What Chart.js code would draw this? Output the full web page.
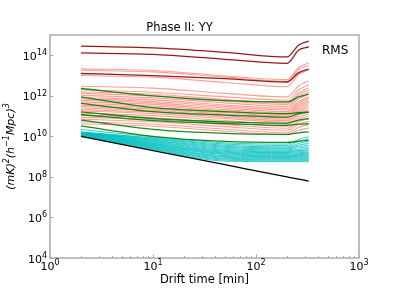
<!DOCTYPE html>
<html>
<head>
    <title>Phase II: YY</title>
    <script src="https://cdnjs.cloudflare.com/ajax/libs/Chart.js/4.4.0/chart.umd.min.js"></script>
    <style>
        body {
            margin: 0;
            background: white;
        }
        canvas {
            display: block;
        }
    </style>
</head>
<body>
    <canvas id="rmsChart" width="399" height="290"></canvas>

    <script>
        // Drift time samples [min]
        const driftTimes = [2, 10, 50, 200, 260, 325];

        // Tick positions and exponents (labels are 10^n)
        const xTickValues = [1, 10, 100, 1000];
        const xTickExponents = ['0', '1', '2', '3'];
        const yTickValues = [1e4, 1e6, 1e8, 1e10, 1e12, 1e14];
        const yTickExponents = ['4', '6', '8', '10', '12', '14'];

        // RMS curves, (mK)^2 (h^-1 Mpc)^3, one row per curve
        const rmsDarkRed = [
            [2.8e14, 2.3e14, 1.4e14, 8.3e13, 3.2e14, 5.0e14],
            [1.3e14, 1.1e14, 6.3e13, 4.0e13, 1.8e14, 2.6e14],
            [1.26e13, 1.0e13, 7.1e12, 4.8e12, 1.4e13, 2.1e13]
        ];

        const rmsGreen = [
            [2.3e12, 1.0e12, 5.8e11, 5.0e11, 8.9e11, 1.2e12],
            [8.9e11, 2.6e11, 1.66e11, 1.32e11, 1.5e11, 1.58e11],
            [4.2e11, 1.66e11, 1.12e11, 8.9e10, 1.32e11, 1.58e11],
            [1.6e11, 7.6e10, 5.2e10, 4.5e10, 6.3e10, 7.6e10],
            [1.2e11, 6.0e10, 4.3e10, 3.5e10, 4.0e10, 4.2e10],
            [6.3e10, 2.2e10, 1.4e10, 1.26e10, 1.5e10, 1.66e10],
            [3.3e10, 1.0e10, 5.6e9, 5.0e9, 5.8e9, 6.3e9]
        ];

        const rmsSalmon = [
            [2.14e13, 1.78e13, 9.55e12, 6.31e12, 2.51e13, 4.17e13],
            [1.82e13, 1.51e13, 8.32e12, 5.25e12, 2.0e13, 3.16e13],
            [1.0e13, 8.32e12, 4.57e12, 2.82e12, 1.12e13, 1.91e13],
            [2.95e12, 2.40e12, 1.32e12, 8.91e11, 3.16e12, 5.62e12],
            [2.0e12, 1.51e12, 8.91e11, 6.03e11, 2.0e12, 3.55e12],
            [1.58e12, 1.20e12, 6.61e11, 4.47e11, 1.41e12, 2.51e12],
            [1.32e12, 1.0e12, 5.62e11, 3.80e11, 1.12e12, 2.0e12],
            [1.05e12, 7.94e11, 4.47e11, 3.02e11, 8.91e11, 1.51e12],
            [8.32e11, 6.31e11, 3.55e11, 2.40e11, 7.08e11, 1.20e12],
            [7.08e11, 5.25e11, 3.02e11, 2.0e11, 5.25e11, 8.91e11],
            [6.03e11, 4.47e11, 2.51e11, 1.66e11, 4.47e11, 7.59e11],
            [5.01e11, 3.80e11, 2.09e11, 1.41e11, 3.55e11, 6.03e11],
            [4.17e11, 3.16e11, 1.78e11, 1.20e11, 3.02e11, 5.01e11],
            [3.55e11, 2.63e11, 1.51e11, 1.0e11, 2.51e11, 4.17e11],
            [3.02e11, 2.24e11, 1.26e11, 8.32e10, 2.0e11, 3.31e11],
            [2.51e11, 1.91e11, 1.05e11, 7.08e10, 1.66e11, 2.63e11],
            [2.09e11, 1.58e11, 8.91e10, 6.03e10, 1.32e11, 2.09e11],
            [1.78e11, 1.32e11, 7.59e10, 5.01e10, 1.12e11, 1.66e11],
            [1.41e11, 1.05e11, 6.03e10, 3.98e10, 8.91e10, 1.32e11],
            [1.12e11, 8.32e10, 4.79e10, 3.16e10, 7.08e10, 1.0e11],
            [8.91e10, 6.61e10, 3.80e10, 2.51e10, 5.25e10, 7.59e10],
            [7.08e10, 5.25e10, 3.02e10, 2.0e10, 3.98e10, 5.62e10],
            [5.25e10, 3.98e10, 2.24e10, 1.51e10, 2.82e10, 3.80e10],
            [4.17e10, 3.16e10, 1.78e10, 1.20e10, 2.0e10, 2.63e10]
        ];

        const rmsCyan = [
            [2.19e10, 9.55e9, 4.79e9, 4.17e9, 7.08e9, 9.55e9],
            [1.66e10, 8.5e9, 4.17e9, 3.55e9, 5.62e9, 7.59e9],
            [1.62e10, 7.94e9, 3.63e9, 3.02e9, 4.47e9, 5.75e9],
            [1.58e10, 7.24e9, 3.24e9, 2.69e9, 3.72e9, 4.47e9],
            [1.55e10, 6.61e9, 2.88e9, 2.40e9, 3.16e9, 3.63e9],
            [1.51e10, 6.17e9, 2.57e9, 2.14e9, 2.69e9, 3.02e9],
            [1.48e10, 5.62e9, 2.24e9, 1.91e9, 2.24e9, 2.51e9],
            [1.45e10, 5.25e9, 2.04e9, 1.74e9, 2.0e9, 2.14e9],
            [1.41e10, 4.79e9, 1.82e9, 1.58e9, 1.78e9, 1.91e9],
            [1.38e10, 4.47e9, 1.66e9, 1.45e9, 1.58e9, 1.66e9],
            [1.35e10, 4.17e9, 1.51e9, 1.32e9, 1.41e9, 1.48e9],
            [1.32e10, 3.89e9, 1.38e9, 1.20e9, 1.26e9, 1.32e9],
            [1.26e10, 3.63e9, 1.26e9, 1.10e9, 1.15e9, 1.20e9],
            [1.23e10, 3.39e9, 1.12e9, 1.0e9, 1.05e9, 1.07e9],
            [1.20e10, 3.16e9, 1.02e9, 9.12e8, 9.55e8, 9.77e8],
            [1.17e10, 2.95e9, 9.33e8, 8.32e8, 8.71e8, 8.91e8],
            [1.15e10, 2.75e9, 8.32e8, 7.59e8, 7.76e8, 7.94e8],
            [1.12e10, 2.57e9, 7.59e8, 6.92e8, 7.08e8, 7.08e8],
            [1.10e10, 2.40e9, 6.76e8, 6.17e8, 6.31e8, 6.31e8],
            [1.05e10, 2.24e9, 6.03e8, 5.62e8, 5.62e8, 5.62e8]
        ];

        const rmsBlack = [1e10, 2e9, 4e8, 1e8, 7.7e7, 6.2e7];

        const fontFamily = '"DejaVu Sans", sans-serif';

        // first datasets are drawn on top
        const datasets = [];
        function addCurves(rows, color, width) {
            rows.forEach(row => {
                datasets.push({
                    data: row.map((v, i) => ({ x: driftTimes[i], y: v })),
                    borderColor: color,
                    borderWidth: width,
                    pointRadius: 0,
                    cubicInterpolationMode: 'monotone',
                    fill: false
                });
            });
        }
        addCurves(rmsDarkRed, 'rgba(139, 0, 0, 0.9)', 1.3);
        addCurves([rmsBlack], '#000000', 1.3);
        addCurves(rmsGreen, 'rgba(0, 128, 0, 0.9)', 1.3);
        addCurves(rmsCyan, 'rgba(0, 191, 191, 0.8)', 1);
        addCurves(rmsSalmon, 'rgba(250, 128, 114, 0.75)', 1.1);

        // draws text made of normal and superscript pieces, centred on x
        function drawPieces(ctx, pieces, x, y, size, style) {
            const supSize = Math.round(size * 0.72);
            let total = 0;
            pieces.forEach(p => {
                ctx.font = style + (p[1] ? supSize : size) + 'px ' + fontFamily;
                total += ctx.measureText(p[0]).width;
            });
            let cx = x - total / 2;
            ctx.textAlign = 'left';
            ctx.textBaseline = 'alphabetic';
            pieces.forEach(p => {
                ctx.font = style + (p[1] ? supSize : size) + 'px ' + fontFamily;
                ctx.fillText(p[0], cx, p[1] ? y - size * 0.42 : y);
                cx += ctx.measureText(p[0]).width;
            });
            return total;
        }

        // axes frame, ticks, tick labels, axis titles and the RMS note
        const framePlugin = {
            id: 'frame',
            afterDraw(chart) {
                const { ctx, chartArea: a, scales } = chart;
                ctx.save();
                ctx.strokeStyle = '#aaaaaa';
                ctx.lineWidth = 1;
                for (let d = 1; d < 1000; d *= 10) {
                    for (let m = 2; m < 10; m++) {
                        const px = Math.round(scales.x.getPixelForValue(m * d)) + 0.5;
                        ctx.beginPath();
                        ctx.moveTo(px, a.bottom);
                        ctx.lineTo(px, a.bottom - 2);
                        ctx.stroke();
                    }
                }
                xTickValues.forEach(v => {
                    const px = Math.round(scales.x.getPixelForValue(v)) + 0.5;
                    ctx.beginPath();
                    ctx.moveTo(px, a.bottom);
                    ctx.lineTo(px, a.bottom - 3.5);
                    ctx.stroke();
                });
                yTickValues.forEach(v => {
                    const py = Math.round(scales.y.getPixelForValue(v)) + 0.5;
                    ctx.beginPath();
                    ctx.moveTo(a.left, py);
                    ctx.lineTo(a.left + 3.5, py);
                    ctx.stroke();
                });
                ctx.lineWidth = 1.5;
                ctx.strokeRect(a.left, a.top, a.right - a.left, a.bottom - a.top);

                ctx.fillStyle = '#000000';

                // x tick labels
                xTickValues.forEach((v, i) => {
                    const px = scales.x.getPixelForValue(v);
                    drawPieces(ctx, [['10', false], [xTickExponents[i], true]], px, a.bottom + 12, 11, '');
                });

                // y tick labels, right aligned
                yTickValues.forEach((v, i) => {
                    const py = scales.y.getPixelForValue(v);
                    ctx.font = '11px ' + fontFamily;
                    const w1 = ctx.measureText('10').width;
                    ctx.font = '8px ' + fontFamily;
                    const w2 = ctx.measureText(yTickExponents[i]).width;
                    drawPieces(ctx, [['10', false], [yTickExponents[i], true]],
                        a.left - 3 - (w1 + w2) / 2, py + 4.5, 11, '');
                });

                // x axis title
                ctx.font = '11.5px ' + fontFamily;
                ctx.textAlign = 'center';
                ctx.textBaseline = 'middle';
                ctx.fillText('Drift time [min]', (a.left + a.right) / 2, a.bottom + 22);

                // y axis title, rotated
                ctx.save();
                ctx.translate(14, (a.top + a.bottom) / 2);
                ctx.rotate(-Math.PI / 2);
                drawPieces(ctx, [['(', false], ['mK', false], [')', false], ['2', true],
                    ['(', false], ['h', false], ['−1', true], ['Mpc', false], [')', false], ['3', true]],
                    0, 0, 11, 'italic ');
                ctx.restore();

                ctx.font = '12px ' + fontFamily;
                ctx.textAlign = 'left';
                ctx.textBaseline = 'middle';
                ctx.fillText('RMS', a.right - 37, a.top + 16);
                ctx.restore();
            }
        };

        new Chart(document.getElementById('rmsChart'), {
            type: 'line',
            data: { datasets: datasets },
            plugins: [framePlugin],
            options: {
                responsive: false,
                animation: false,
                devicePixelRatio: 1,
                layout: {
                    padding: { left: 0, right: 40, top: 0, bottom: 0 }
                },
                scales: {
                    x: {
                        type: 'logarithmic',
                        min: 1,
                        max: 1000,
                        afterBuildTicks: scale => {
                            scale.ticks = xTickValues.map(v => ({ value: v }));
                        },
                        afterFit: scale => { scale.height = 32; },
                        grid: { display: false },
                        border: { display: false },
                        ticks: { display: false }
                    },
                    y: {
                        type: 'logarithmic',
                        min: 1e4,
                        max: 1e15,
                        afterBuildTicks: scale => {
                            scale.ticks = yTickValues.map(v => ({ value: v }));
                        },
                        afterFit: scale => { scale.width = 50; },
                        grid: { display: false },
                        border: { display: false },
                        ticks: { display: false }
                    }
                },
                plugins: {
                    legend: { display: false },
                    tooltip: { enabled: false },
                    title: {
                        display: true,
                        text: 'Phase II: YY',
                        color: '#000000',
                        font: { family: fontFamily, size: 11.5, weight: 'normal', lineHeight: 1 },
                        padding: { top: 22, bottom: 1.5 }
                    }
                }
            }
        });
    </script>
</body>
</html>
